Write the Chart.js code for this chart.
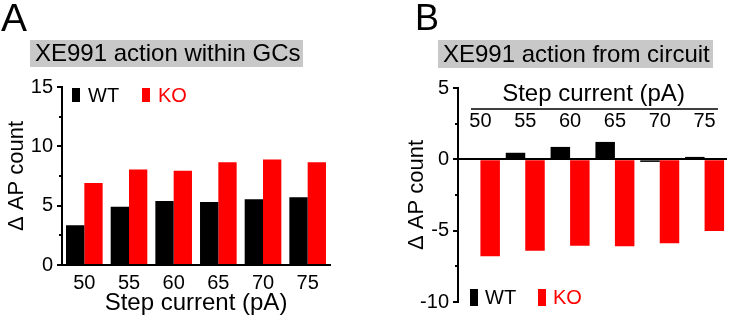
<!DOCTYPE html>
<html>
<head>
<meta charset="utf-8">
<script src="https://cdn.jsdelivr.net/npm/chart.js@4/dist/chart.umd.min.js"></script>
<style>
  html, body { margin: 0; padding: 0; background: #fff; }
  #wrap { position: relative; width: 730px; height: 318px; }
  .pane { position: absolute; top: 0; width: 365px; height: 318px; }
</style>
</head>
<body>
<div id="wrap">
  <div class="pane" style="left:0"><canvas id="chartA" width="365" height="318"></canvas></div>
  <div class="pane" style="left:365px"><canvas id="chartB" width="365" height="318"></canvas></div>
</div>
<script>
// step currents (pA)
const steps = ['50', '55', '60', '65', '70', '75']
// delta AP count, XE991 action within GCs
const wtWithin = [3.35, 4.9, 5.4, 5.3, 5.55, 5.7]
const koWithin = [6.9, 8.05, 7.95, 8.65, 8.9, 8.65]
// delta AP count, XE991 action from circuit
const wtCircuit = [0.05, 0.46, 0.87, 1.22, -0.18, 0.17]
const koCircuit = [-6.8, -6.4, -6.05, -6.1, -5.88, -5.03]
// y axis ticks
const ticksWithin = [0, 5, 10, 15]
const ticksCircuit = [-10, -5, 0, 5]

const FONT = "'Liberation Sans', Arial, sans-serif"
Chart.defaults.font.family = FONT
Chart.defaults.color = '#000'

// panel letter, grey title box, legend, minor ticks and (panel B) the top step-current axis
const decor = {
  id: 'decor',
  afterDraw(chart, args, o) {
    const ctx = chart.ctx
    const area = chart.chartArea
    const y = chart.scales.y
    const x = chart.scales.x
    ctx.save()
    ctx.textAlign = 'left'
    ctx.fillStyle = '#000'
    ctx.font = o.letterSize + 'px ' + FONT
    ctx.textBaseline = 'alphabetic'
    ctx.fillText(o.letter, o.letterX, o.letterY)

    const [bx, by, bw, bh] = o.box
    ctx.fillStyle = '#c8c8c8'
    ctx.fillRect(bx, by, bw, bh)
    ctx.fillStyle = '#000'
    ctx.font = '24px ' + FONT
    ctx.textBaseline = 'middle'
    ctx.fillText(o.title, bx + 5, by + bh / 2 + 1)

    // legend
    const [lx, ly, lw, lh, gap, tOff, tY] = o.legend
    ctx.font = '20px ' + FONT
    chart.data.datasets.forEach((ds, i) => {
      const px = lx + i * gap
      ctx.fillStyle = ds.backgroundColor
      ctx.fillRect(px, ly, lw, lh)
      ctx.fillText(ds.label, px + tOff, tY)
    })

    // minor ticks halfway between major ticks
    const majors = y.ticks.map(t => t.value)
    ctx.strokeStyle = '#000'
    ctx.lineWidth = 2
    for (let i = 0; i < majors.length - 1; i++) {
      const py = Math.round(y.getPixelForValue((majors[i] + majors[i + 1]) / 2))
      ctx.beginPath()
      ctx.moveTo(area.left - 3, py)
      ctx.lineTo(area.left, py)
      ctx.stroke()
    }

    if (o.topAxis) {
      const t = o.topAxis
      ctx.lineWidth = 1.5
      ctx.beginPath()
      ctx.moveTo(t.x0, t.lineY)
      ctx.lineTo(t.x1, t.lineY)
      ctx.stroke()
      ctx.fillStyle = '#000'
      ctx.textAlign = 'center'
      ctx.font = '20px ' + FONT
      chart.data.labels.forEach((lab, i) => {
        ctx.fillText(lab, x.getPixelForValue(i), t.labelY)
      })
      ctx.font = '24px ' + FONT
      ctx.fillText(t.title, (t.x0 + t.x1) / 2 - 1, t.titleY)
    }
    ctx.restore()
  }
}

function setTicks(list) {
  return scale => { scale.ticks = list.map(v => ({ value: v })) }
}

const chartA = new Chart(document.getElementById('chartA').getContext('2d'), {
  type: 'bar',
  data: {
    labels: steps,
    datasets: [
      { label: 'WT', data: wtWithin, backgroundColor: '#000000' },
      { label: 'KO', data: koWithin, backgroundColor: '#ff0000' }
    ]
  },
  options: {
    responsive: false,
    animation: false,
    layout: { padding: { top: 87, right: 35, left: 0, bottom: 0 } },
    datasets: { bar: { categoryPercentage: 0.82, barPercentage: 1 } },
    scales: {
      x: {
        grid: { display: false, drawTicks: false },
        border: { display: true, color: '#000', width: 2 },
        ticks: { padding: 6, font: { size: 20 }, color: '#000' },
        title: { display: true, text: 'Step current (pA)', font: { size: 24 }, color: '#000', padding: { top: 0, bottom: 0 } },
        afterFit: s => { s.height = 53 }
      },
      y: {
        min: 0,
        max: 15,
        afterBuildTicks: setTicks(ticksWithin),
        grid: { display: true, drawOnChartArea: false, drawTicks: true, tickLength: 5, color: '#000', lineWidth: 2 },
        border: { display: true, color: '#000', width: 2 },
        ticks: { padding: 4, font: { size: 20 }, color: '#000' },
        title: { display: true, text: 'Δ AP count', font: { size: 22 }, color: '#000', padding: { top: 4, bottom: 0 } },
        afterFit: s => { s.width = 62 }
      }
    },
    plugins: {
      legend: { display: false },
      tooltip: { enabled: false },
      decor: {
        letter: 'A', letterSize: 39, letterX: 1, letterY: 31,
        box: [30, 40, 273, 27],
        title: 'XE991 action within GCs',
        legend: [72, 88, 8, 14, 70, 16, 96]
      }
    }
  },
  plugins: [decor]
})

const chartB = new Chart(document.getElementById('chartB').getContext('2d'), {
  type: 'bar',
  data: {
    labels: steps,
    datasets: [
      { label: 'WT', data: wtCircuit, backgroundColor: '#000000' },
      { label: 'KO', data: koCircuit, backgroundColor: '#ff0000' }
    ]
  },
  options: {
    responsive: false,
    animation: false,
    layout: { padding: { top: 88, right: 3, left: 0, bottom: 13 } },
    datasets: { bar: { categoryPercentage: 0.87, barPercentage: 1 } },
    scales: {
      x: { display: false },
      y: {
        min: -10,
        max: 5,
        afterBuildTicks: setTicks(ticksCircuit),
        grid: {
          display: true,
          drawOnChartArea: true,
          drawTicks: true,
          tickLength: 5,
          color: c => (c.tick && c.tick.value === 0 ? '#000' : 'rgba(0,0,0,0)'),
          tickColor: '#000',
          lineWidth: 2
        },
        border: { display: true, color: '#000', width: 2 },
        ticks: { padding: 4, font: { size: 20 }, color: '#000' },
        title: { display: true, text: 'Δ AP count', font: { size: 22 }, color: '#000', padding: { top: 39, bottom: 0 } },
        afterFit: s => { s.width = 93 }
      }
    },
    plugins: {
      legend: { display: false },
      tooltip: { enabled: false },
      decor: {
        letter: 'B', letterSize: 36, letterX: 50, letterY: 30,
        box: [73, 40, 275, 28],
        title: 'XE991 action from circuit',
        legend: [105, 289, 8, 17, 68, 15, 298],
        topAxis: { x0: 106, x1: 353, lineY: 109, labelY: 121, title: 'Step current (pA)', titleY: 94 }
      }
    }
  },
  plugins: [decor]
})
</script>
</body>
</html>
